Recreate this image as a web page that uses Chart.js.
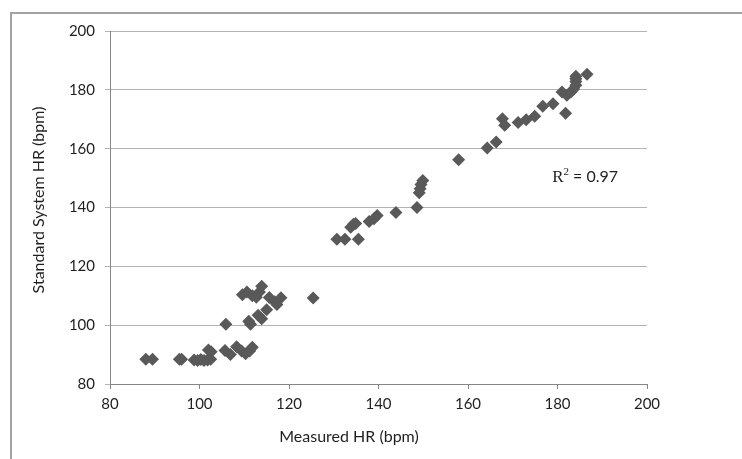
<!DOCTYPE html>
<html>
<head>
<meta charset="utf-8">
<script src="https://cdn.jsdelivr.net/npm/chart.js@4/dist/chart.umd.min.js"></script>
<style>
    body { margin: 0; background: #fff; }
    #wrap { position: relative; width: 742px; height: 459px; overflow: hidden; }
    #frame { position: absolute; left: 10px; top: 12px; width: 800px; height: 500px; border: 2px solid #a3a3a3; }
    #chart { position: absolute; left: 0; top: 0; }
</style>
</head>
<body>
<div id="wrap">
    <div id="frame"></div>
    <canvas id="chart" width="742" height="459"></canvas>
</div>
<script>
// Measured HR (x) against standard system HR (y), bpm
const measuredHR = [
    88, 89.5, 95.5, 96, 98.8, 99.6, 100.3, 101, 101.8, 102.5, 102, 102.6,
    105.7, 106.9, 108.3, 109.4, 110.3, 111.2, 111.8, 105.9, 111, 111.4,
    113.1, 113.9, 115, 109.6, 110.6, 111.8, 112.7, 113.4, 113.9, 115.6,
    116.8, 117.3, 118.2, 125.4, 130.7, 132.5, 135.5, 133.8, 134.4, 134.9,
    137.9, 139, 139.7, 143.9, 148.6, 149.1, 149.3, 149.5, 149.9, 157.9,
    164.3, 166.3, 167.7, 168.2, 171.2, 173, 174.9, 176.7, 179, 181,
    181.8, 182.1, 183, 183.6, 184.1, 184.1, 184.1, 184.1, 186.6
];
const standardHR = [
    88.4, 88.4, 88.4, 88.4, 88.2, 88, 88.3, 88, 88.2, 88.4, 91.6, 91,
    91.4, 90, 92.7, 91.2, 90.3, 91.2, 92.5, 100.3, 101.3, 100.3,
    103.4, 102.2, 105.2, 110.3, 111.3, 110, 109.5, 111.3, 113.2, 109.4,
    108, 107, 109.3, 109.2, 129.2, 129.2, 129.2, 133.3, 134.3, 134.6,
    135.2, 136.2, 137.3, 138.3, 140, 145, 146.4, 147.8, 149.2, 156.2,
    160.2, 162.3, 170.2, 168, 168.9, 169.8, 171, 174.4, 175.3, 179.3,
    172, 178.2, 179.3, 180.3, 181.6, 182.8, 183.8, 184.6, 185.3
];
const xTicks = [80, 100, 120, 140, 160, 180, 200];
const yTicks = [80, 100, 120, 140, 160, 180, 200];
const xTitle = 'Measured HR (bpm)';
const yTitle = 'Standard System HR (bpm)';
const rSquared = '0.97';
// where the R² label sits, in data units (left edge, baseline)
const rLabelAt = { x: 178.8, y: 148.7 };

const textColor = '#1f1f1f';
const uiFont = 'Lato, "Open Sans", sans-serif';

// Axis titles and the R² label
const annotations = {
    id: 'annotations',
    afterDraw(chart) {
        const ctx = chart.ctx;
        const xs = chart.scales.x;
        const ys = chart.scales.y;
        ctx.save();
        ctx.fillStyle = textColor;
        ctx.font = '16px ' + uiFont;
        ctx.textAlign = 'center';
        ctx.textBaseline = 'middle';
        ctx.fillText(xTitle, 349, 437);
        ctx.translate(39, 200);
        ctx.rotate(-Math.PI / 2);
        ctx.fillText(yTitle, 0, 0);
        ctx.restore();

        // R² = 0.97
        ctx.save();
        ctx.fillStyle = textColor;
        ctx.textAlign = 'left';
        ctx.textBaseline = 'alphabetic';
        let px = xs.getPixelForValue(rLabelAt.x);
        const py = ys.getPixelForValue(rLabelAt.y);
        ctx.font = '17px "Liberation Serif", serif';
        ctx.fillText('R', px, py);
        px += ctx.measureText('R').width;
        ctx.font = '11px "Liberation Serif", serif';
        ctx.fillText('2', px, py - 7);
        px += ctx.measureText('2').width;
        ctx.font = '16px ' + uiFont;
        ctx.fillText(' = ' + rSquared, px, py);
        ctx.restore();
    }
};

const chartCanvas = document.querySelector('#chart');
new Chart(chartCanvas, {
    type: 'scatter',
    data: {
        datasets: [{
            label: 'HR',
            data: measuredHR.map((x, i) => ({ x: x, y: standardHR[i] })),
            pointStyle: 'rectRot',
            pointRadius: 6.5,
            pointHoverRadius: 6.5,
            pointBorderWidth: 0,
            backgroundColor: '#595959',
            borderColor: '#595959'
        }]
    },
    options: {
        responsive: false,
        animation: false,
        layout: { padding: { left: 0, right: 95, top: 31, bottom: 0 } },
        plugins: {
            legend: { display: false },
            tooltip: { enabled: false }
        },
        scales: {
            x: {
                type: 'linear',
                min: 80,
                max: 200,
                afterBuildTicks: (scale) => { scale.ticks = xTicks.map(v => ({ value: v })); },
                afterFit: (scale) => { scale.height = 75; },
                border: { color: '#868686', width: 1 },
                grid: { drawOnChartArea: false, drawTicks: true, tickLength: 5, color: '#868686' },
                ticks: { color: textColor, font: { family: uiFont, size: 15 }, padding: 6, maxRotation: 0 }
            },
            y: {
                type: 'linear',
                min: 80,
                max: 200,
                afterBuildTicks: (scale) => { scale.ticks = yTicks.map(v => ({ value: v })); },
                afterFit: (scale) => { scale.width = 110; },
                border: { color: '#868686', width: 1 },
                grid: { color: '#b3b3b3', lineWidth: 1, drawTicks: true, tickLength: 5 },
                ticks: { color: textColor, font: { family: uiFont, size: 15 }, padding: 10 }
            }
        }
    },
    plugins: [annotations]
});
</script>
</body>
</html>
